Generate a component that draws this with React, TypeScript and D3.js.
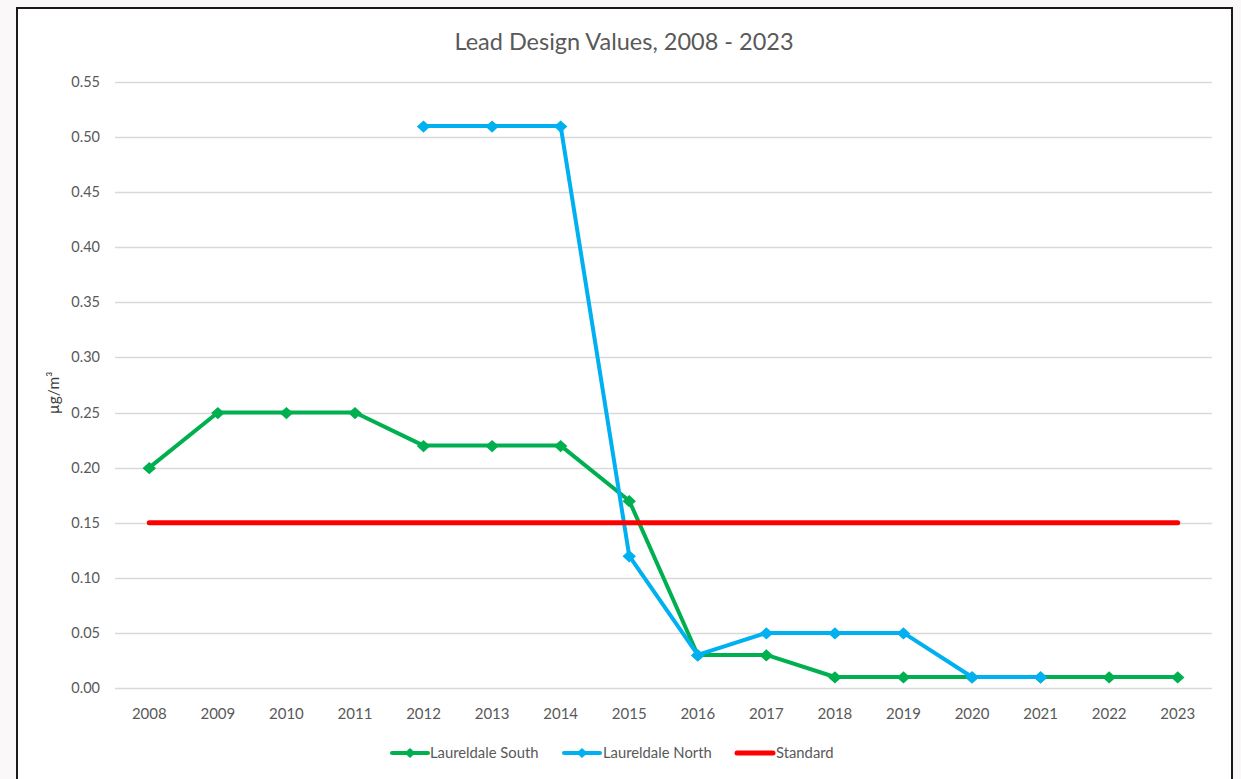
import React, { useEffect, useRef } from "react";
import * as d3 from "d3";

const years = ["2008", "2009", "2010", "2011", "2012", "2013", "2014", "2015", "2016", "2017", "2018", "2019", "2020", "2021", "2022", "2023"];
const southValues = [0.2, 0.25, 0.25, 0.25, 0.22, 0.22, 0.22, 0.17, 0.03, 0.03, 0.01, 0.01, 0.01, 0.01, 0.01, 0.01];
const northValues = [null, null, null, null, 0.51, 0.51, 0.51, 0.12, 0.03, 0.05, 0.05, 0.05, 0.01, 0.01, null, null];
const standardValues = [0.15, 0.15, 0.15, 0.15, 0.15, 0.15, 0.15, 0.15, 0.15, 0.15, 0.15, 0.15, 0.15, 0.15, 0.15, 0.15];
const yTicks = [0, 0.05, 0.1, 0.15, 0.2, 0.25, 0.3, 0.35, 0.4, 0.45, 0.5, 0.55];

const series = [
  { name: "Laureldale South", values: southValues, color: "#00b050", width: 4, marker: true },
  { name: "Laureldale North", values: northValues, color: "#00b0f0", width: 4, marker: true },
  { name: "Standard", values: standardValues, color: "#ff0000", width: 5, marker: false },
];

const W = 1241;
const H = 779;
const FONT = "Lato, 'Open Sans', sans-serif";

// wide diamond marker, like the spreadsheet one
const wideDiamond = {
  draw(ctx: any, size: number) {
    const w = Math.sqrt(size) / 2 * 1.1;
    const h = Math.sqrt(size) / 2;
    ctx.moveTo(0, -h);
    ctx.lineTo(w, 0);
    ctx.lineTo(0, h);
    ctx.lineTo(-w, 0);
    ctx.closePath();
  },
};

export default function App() {
  const ref = useRef<SVGSVGElement>(null);

  useEffect(() => {
    const svg = d3.select(ref.current);
    svg.selectAll("*").remove();

    svg.append("rect").attr("width", W).attr("height", H).attr("fill", "#faf8f8");
    svg.append("rect")
      .attr("x", 17).attr("y", 8).attr("width", 1215).attr("height", 790)
      .attr("fill", "#ffffff").attr("stroke", "#1a1a1a").attr("stroke-width", 2);

    const left = 115, right = 1212, top = 82, bottom = 688;

    const x = d3.scaleBand().domain(years).range([left, right]);
    const y = d3.scaleLinear().domain([0, 0.55]).range([bottom, top]);
    const cx = (i: number) => (x(years[i]) as number) + x.bandwidth() / 2;

    svg.append("text")
      .attr("x", 624).attr("y", 50)
      .attr("text-anchor", "middle")
      .attr("font-family", FONT).attr("font-size", 23.5)
      .attr("fill", "#595959")
      .text("Lead Design Values, 2008 - 2023");

    // gridlines + y labels
    svg.append("g").selectAll("line")
      .data(yTicks).enter().append("line")
      .attr("x1", left).attr("x2", right)
      .attr("y1", (d) => Math.round(y(d)) + 0.5).attr("y2", (d) => Math.round(y(d)) + 0.5)
      .attr("stroke", "#d9d9d9").attr("stroke-width", 1.3);

    svg.append("g").selectAll("text")
      .data(yTicks).enter().append("text")
      .attr("x", 100).attr("y", (d) => y(d) + 5)
      .attr("text-anchor", "end")
      .attr("font-family", FONT).attr("font-size", 14.5)
      .attr("fill", "#595959")
      .text((d) => d.toFixed(2));

    svg.append("g").selectAll("text")
      .data(years).enter().append("text")
      .attr("x", (d) => (x(d) as number) + x.bandwidth() / 2).attr("y", 719)
      .attr("text-anchor", "middle")
      .attr("font-family", FONT).attr("font-size", 15)
      .attr("fill", "#595959")
      .text((d) => d);

    svg.append("text")
      .attr("transform", `translate(59,393) rotate(-90)`)
      .attr("text-anchor", "middle")
      .attr("font-family", FONT).attr("font-size", 15.5)
      .attr("fill", "#404040")
      .text("µg/m³");

    const diamond = d3.symbol().type(wideDiamond as any).size(150);

    series.forEach((s) => {
      const line = d3.line<number | null>()
        .defined((d) => d !== null)
        .x((_, i) => cx(i))
        .y((d) => y(d as number));
      svg.append("path")
        .datum(s.values)
        .attr("fill", "none")
        .attr("stroke", s.color)
        .attr("stroke-width", s.width)
        .attr("stroke-linejoin", "round")
        .attr("stroke-linecap", "round")
        .attr("d", line);
      if (s.marker) {
        svg.append("g").selectAll("path")
          .data(s.values.map((v, i) => ({ v, i })).filter((d) => d.v !== null))
          .enter().append("path")
          .attr("d", diamond)
          .attr("transform", (d) => `translate(${cx(d.i)},${y(d.v as number) + 0.5})`)
          .attr("fill", s.color);
      }
    });

    // legend
    const legendItems = [
      { x: 392, tx: 430 },
      { x: 564, tx: 603 },
      { x: 737, tx: 776 },
    ];
    series.forEach((s, i) => {
      const g = svg.append("g");
      const lx = legendItems[i].x;
      g.append("line")
        .attr("x1", lx).attr("x2", lx + 36)
        .attr("y1", 753).attr("y2", 753)
        .attr("stroke", s.color).attr("stroke-width", s.width)
        .attr("stroke-linecap", "round");
      if (s.marker) {
        g.append("path").attr("d", d3.symbol().type(wideDiamond as any).size(100))
          .attr("transform", `translate(${lx + 18},753)`)
          .attr("fill", s.color);
      }
      g.append("text")
        .attr("x", legendItems[i].tx).attr("y", 758)
        .attr("font-family", FONT).attr("font-size", 14.8)
        .attr("fill", "#595959")
        .text(s.name);
    });
  }, []);

  return (
    <div style={{ position: "absolute", left: 0, top: 0 }}>
      <svg ref={ref} width={W} height={H} style={{ display: "block" }}></svg>
    </div>
  );
}
